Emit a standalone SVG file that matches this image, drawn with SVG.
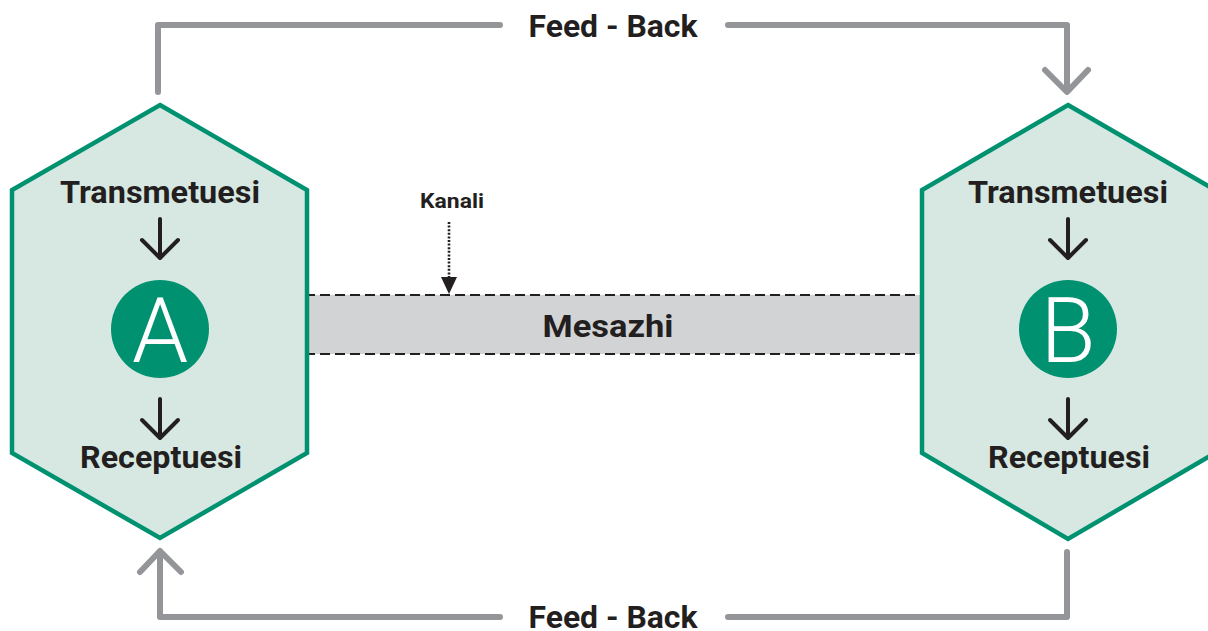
<svg xmlns="http://www.w3.org/2000/svg" width="1208" height="631" viewBox="0 0 1208 631">
  <defs>
    <style>
      .hex { fill: #d6e8e1; stroke: #009270; stroke-width: 4.5; stroke-linejoin: miter; }
      .disc { fill: #009270; }
      .letter { font-family: Roboto, "Liberation Sans", sans-serif; font-weight: 300; font-size: 90px; fill: #ffffff; text-anchor: middle; }
      .label { font-family: Roboto, "Liberation Sans", sans-serif; font-weight: 700; fill: #231f20; text-anchor: middle; }
      .step { fill: none; stroke: #231f20; stroke-width: 4; stroke-linecap: round; stroke-linejoin: round; }
      .fb { fill: none; stroke: #939598; stroke-width: 6; stroke-linecap: round; stroke-linejoin: round; }
      .dash { stroke: #231f20; stroke-width: 2; stroke-dasharray: 10 5; }
    </style>
  </defs>

  <!-- message channel band -->
  <g id="mesazhi">
    <rect x="305" y="295" width="620" height="59" fill="#d1d3d4"/>
    <line class="dash" x1="305" y1="295" x2="925" y2="295"/>
    <line class="dash" x1="305" y1="354" x2="925" y2="354"/>
    <text class="label" x="608" y="337" font-size="31" textLength="131" lengthAdjust="spacingAndGlyphs">Mesazhi</text>
  </g>

  <!-- channel pointer -->
  <g id="kanali">
    <text class="label" x="452" y="208" font-size="21" textLength="64" lengthAdjust="spacingAndGlyphs">Kanali</text>
    <line x1="449" y1="222" x2="449" y2="278" stroke="#231f20" stroke-width="2.6" stroke-dasharray="2 1.6"/>
    <polygon points="441,277 457,277 449,294" fill="#231f20"/>
  </g>

  <!-- party A -->
  <g id="node-a">
    <polygon class="hex" points="160,105 307,190 307,453 160,538 12,453 12,190"/>
    <text class="label" x="160" y="203" font-size="31" textLength="200" lengthAdjust="spacingAndGlyphs">Transmetuesi</text>
    <path class="step" d="M160,219 V257 M142,240 L160,258 L178,240"/>
    <circle class="disc" cx="160" cy="329" r="49"/>
    <text class="letter" x="160" y="362">A</text>
    <path class="step" d="M160,399 V437 M142,420 L160,438 L178,420"/>
    <text class="label" x="161" y="468" font-size="31" textLength="162" lengthAdjust="spacingAndGlyphs">Receptuesi</text>
  </g>

  <!-- party B -->
  <g id="node-b">
    <polygon class="hex" points="1068,105 1215,190 1215,453 1068,539 922,453 922,190"/>
    <text class="label" x="1068" y="203" font-size="31" textLength="200" lengthAdjust="spacingAndGlyphs">Transmetuesi</text>
    <path class="step" d="M1068,219 V257 M1050,240 L1068,258 L1086,240"/>
    <circle class="disc" cx="1068" cy="329" r="49"/>
    <text class="letter" x="1068" y="362">B</text>
    <path class="step" d="M1068,399 V437 M1050,420 L1068,438 L1086,420"/>
    <text class="label" x="1069" y="468" font-size="31" textLength="162" lengthAdjust="spacingAndGlyphs">Receptuesi</text>
  </g>

  <!-- feedback loops -->
  <g id="connectors">
    <path class="fb" d="M158,92 V25 H500"/>
    <path class="fb" d="M728,25 H1067 V91 M1045,70 L1067,92 L1088,70"/>
    <path class="fb" d="M1067,552 V617 H728"/>
    <path class="fb" d="M500,617 H160 V551 M140,572 L160,551 L181,572"/>
    <text class="label" x="613" y="37" font-size="31" textLength="169" lengthAdjust="spacingAndGlyphs">Feed - Back</text>
    <text class="label" x="613" y="628" font-size="31" textLength="169" lengthAdjust="spacingAndGlyphs">Feed - Back</text>
  </g>
</svg>
